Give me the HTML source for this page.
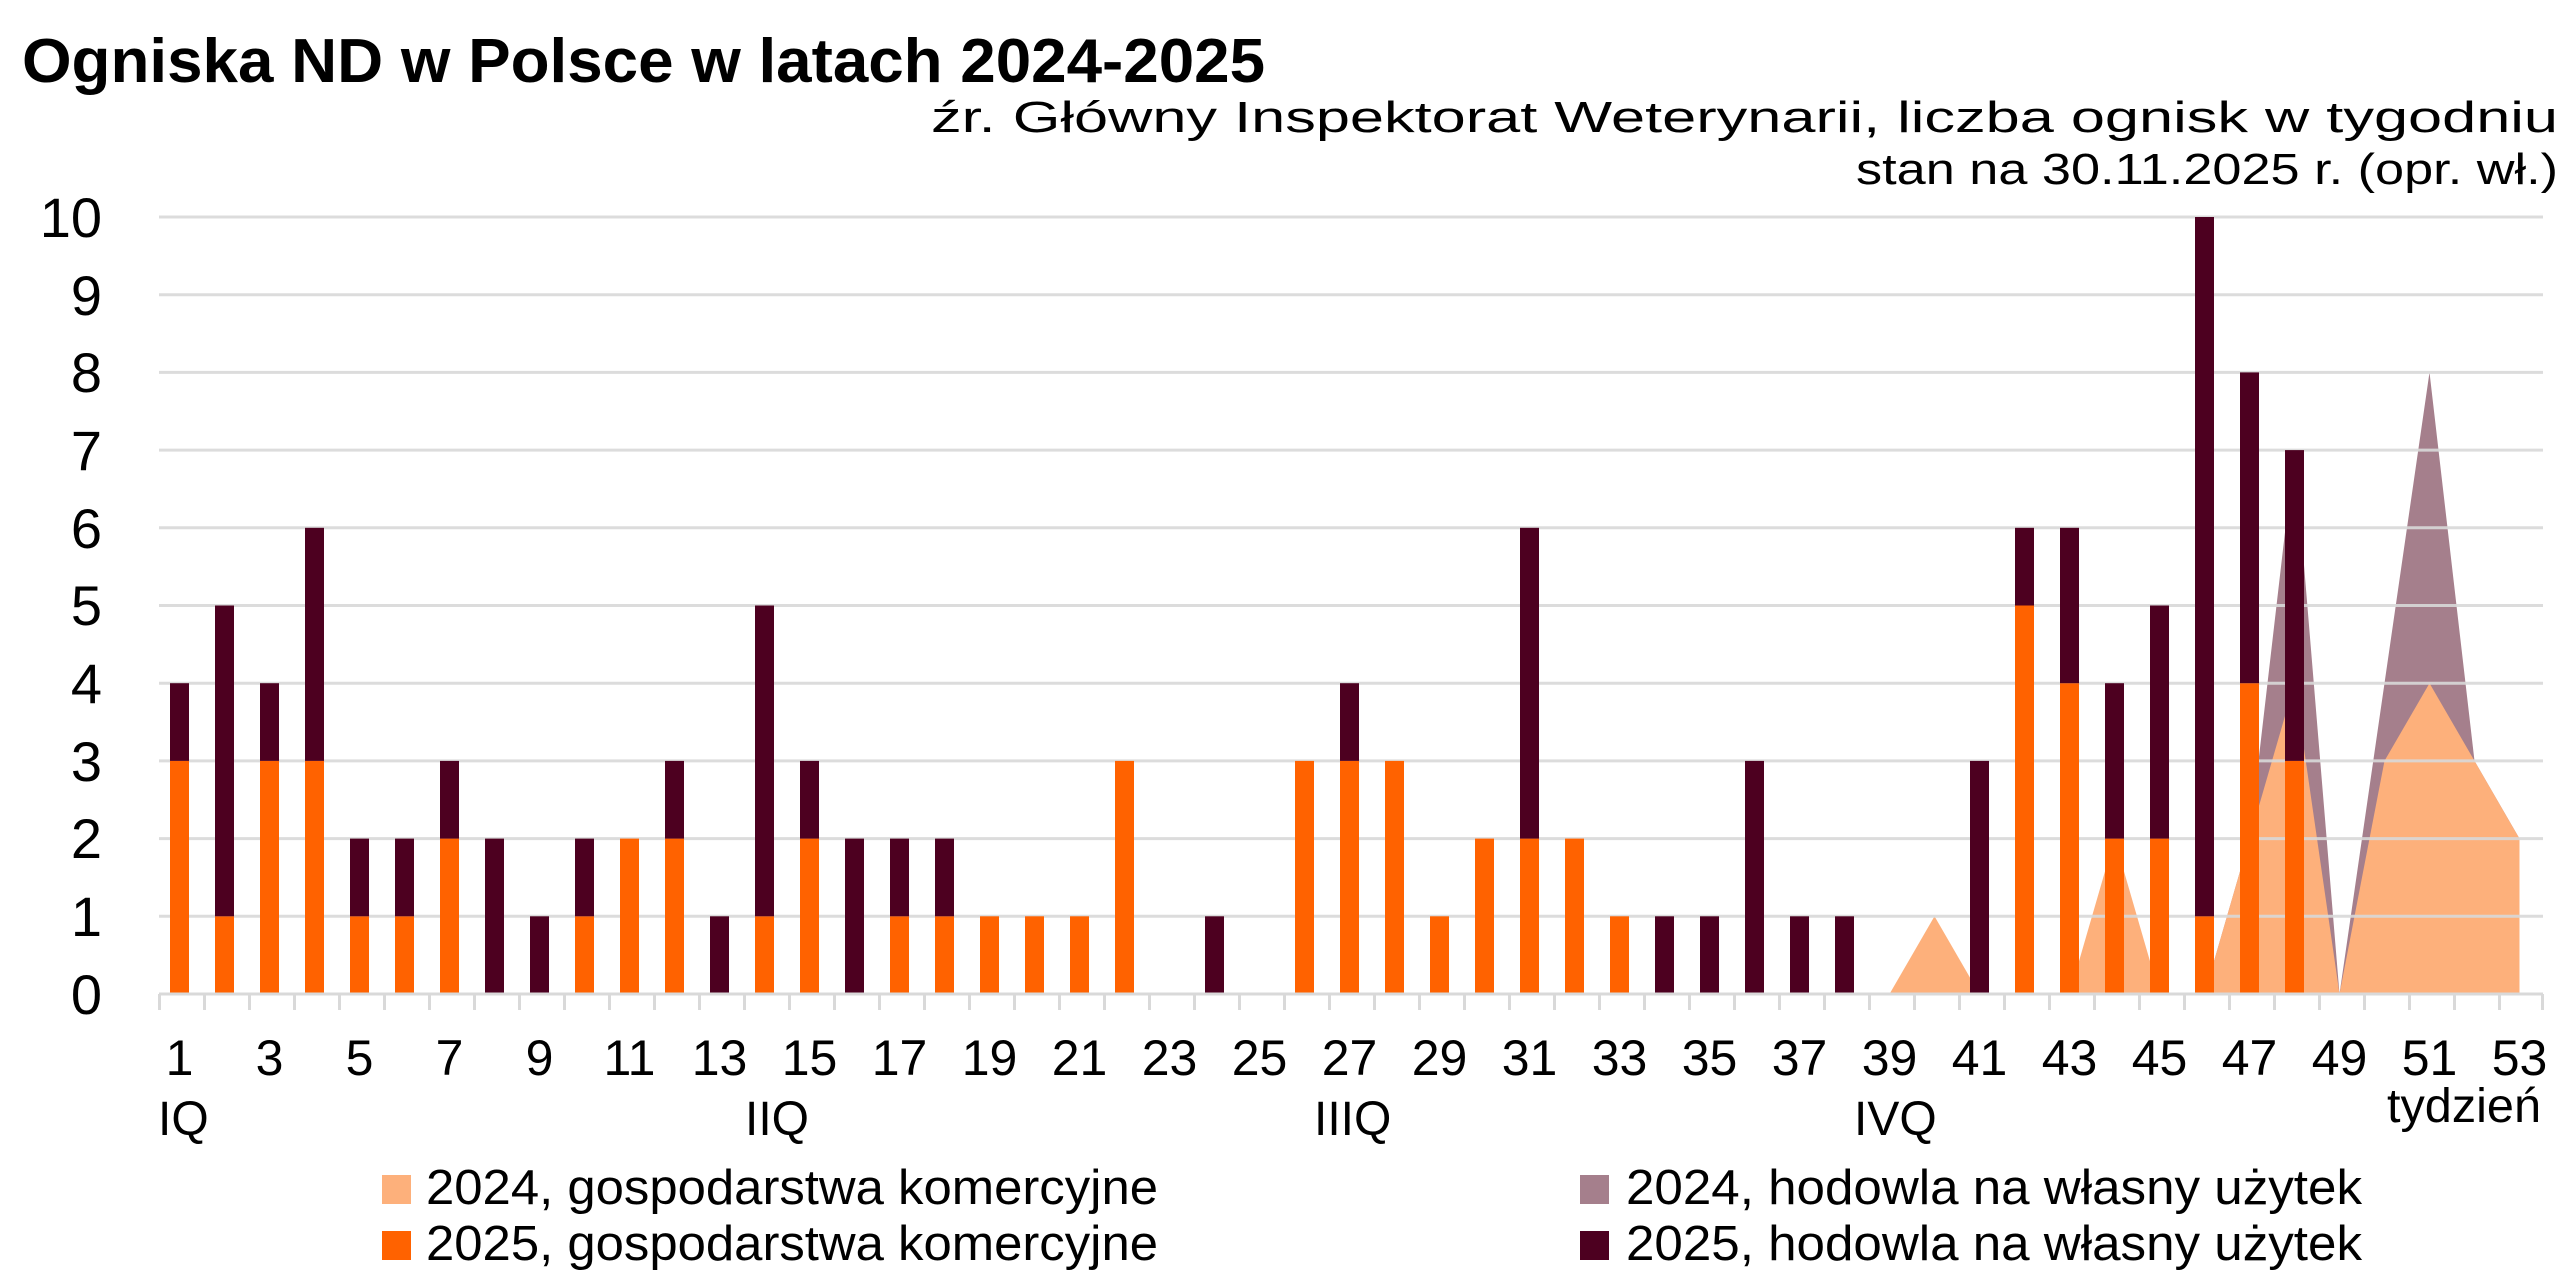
<!DOCTYPE html>
<html><head><meta charset="utf-8"><style>html,body{margin:0;padding:0;background:#fff}svg{display:block}</style></head>
<body>
<svg width="2576" height="1274" viewBox="0 0 2576 1274" xmlns="http://www.w3.org/2000/svg" font-family="Liberation Sans, DejaVu Sans, sans-serif">
<rect width="2576" height="1274" fill="#fff"/>
<text x="22" y="82" font-size="62" font-weight="bold" fill="#000" textLength="1243" lengthAdjust="spacingAndGlyphs">Ogniska ND w Polsce w latach 2024-2025</text>
<text x="2558" y="132" font-size="44" text-anchor="end" fill="#000" textLength="1627" lengthAdjust="spacingAndGlyphs">źr. Główny Inspektorat Weterynarii, liczba ognisk w tygodniu</text>
<text x="2558" y="184" font-size="44" text-anchor="end" fill="#000" textLength="702" lengthAdjust="spacingAndGlyphs">stan na 30.11.2025 r. (opr. wł.)</text>

<polygon fill="#a57f8c" points="2204.5,994 2249.5,838.6 2294.5,450.1 2339.5,994"/>
<polygon fill="#a57f8c" points="2339.5,994 2384.5,683.2 2429.5,372.4 2474.5,760.9 2519.5,838.6 2519.5,994"/>
<polygon fill="#fdb07b" points="1889.5,994 1934.5,916.3 1979.5,994"/>
<polygon fill="#fdb07b" points="2069.5,994 2114.5,838.6 2159.5,994"/>
<polygon fill="#fdb07b" points="2204.5,994 2249.5,838.6 2294.5,683.2 2339.5,994 2384.5,760.9 2429.5,683.2 2474.5,760.9 2519.5,838.6 2519.5,994"/>

<g stroke="#d9d9d9" stroke-width="3" opacity="0.9">
<line x1="159" x2="2543" y1="217" y2="217"/><line x1="159" x2="2543" y1="294.7" y2="294.7"/>
<line x1="159" x2="2543" y1="372.4" y2="372.4"/><line x1="159" x2="2543" y1="450.1" y2="450.1"/>
<line x1="159" x2="2543" y1="527.8" y2="527.8"/><line x1="159" x2="2543" y1="605.5" y2="605.5"/>
<line x1="159" x2="2543" y1="683.2" y2="683.2"/><line x1="159" x2="2543" y1="760.9" y2="760.9"/>
<line x1="159" x2="2543" y1="838.6" y2="838.6"/><line x1="159" x2="2543" y1="916.3" y2="916.3"/>
</g>

<g fill="#ff6200">
<rect x="170" y="760.9" width="19" height="233.1"/>
<rect x="215" y="916.3" width="19" height="77.7"/>
<rect x="260" y="760.9" width="19" height="233.1"/>
<rect x="305" y="760.9" width="19" height="233.1"/>
<rect x="350" y="916.3" width="19" height="77.7"/>
<rect x="395" y="916.3" width="19" height="77.7"/>
<rect x="440" y="838.6" width="19" height="155.4"/>
<rect x="575" y="916.3" width="19" height="77.7"/>
<rect x="620" y="838.6" width="19" height="155.4"/>
<rect x="665" y="838.6" width="19" height="155.4"/>
<rect x="755" y="916.3" width="19" height="77.7"/>
<rect x="800" y="838.6" width="19" height="155.4"/>
<rect x="890" y="916.3" width="19" height="77.7"/>
<rect x="935" y="916.3" width="19" height="77.7"/>
<rect x="980" y="916.3" width="19" height="77.7"/>
<rect x="1025" y="916.3" width="19" height="77.7"/>
<rect x="1070" y="916.3" width="19" height="77.7"/>
<rect x="1115" y="760.9" width="19" height="233.1"/>
<rect x="1295" y="760.9" width="19" height="233.1"/>
<rect x="1340" y="760.9" width="19" height="233.1"/>
<rect x="1385" y="760.9" width="19" height="233.1"/>
<rect x="1430" y="916.3" width="19" height="77.7"/>
<rect x="1475" y="838.6" width="19" height="155.4"/>
<rect x="1520" y="838.6" width="19" height="155.4"/>
<rect x="1565" y="838.6" width="19" height="155.4"/>
<rect x="1610" y="916.3" width="19" height="77.7"/>
<rect x="2015" y="605.5" width="19" height="388.5"/>
<rect x="2060" y="683.2" width="19" height="310.8"/>
<rect x="2105" y="838.6" width="19" height="155.4"/>
<rect x="2150" y="838.6" width="19" height="155.4"/>
<rect x="2195" y="916.3" width="19" height="77.7"/>
<rect x="2240" y="683.2" width="19" height="310.8"/>
<rect x="2285" y="760.9" width="19" height="233.1"/>
</g>
<g fill="#4d0020">
<rect x="170" y="683.2" width="19" height="77.7"/>
<rect x="215" y="605.5" width="19" height="310.8"/>
<rect x="260" y="683.2" width="19" height="77.7"/>
<rect x="305" y="527.8" width="19" height="233.1"/>
<rect x="350" y="838.6" width="19" height="77.7"/>
<rect x="395" y="838.6" width="19" height="77.7"/>
<rect x="440" y="760.9" width="19" height="77.7"/>
<rect x="485" y="838.6" width="19" height="155.4"/>
<rect x="530" y="916.3" width="19" height="77.7"/>
<rect x="575" y="838.6" width="19" height="77.7"/>
<rect x="665" y="760.9" width="19" height="77.7"/>
<rect x="710" y="916.3" width="19" height="77.7"/>
<rect x="755" y="605.5" width="19" height="310.8"/>
<rect x="800" y="760.9" width="19" height="77.7"/>
<rect x="845" y="838.6" width="19" height="155.4"/>
<rect x="890" y="838.6" width="19" height="77.7"/>
<rect x="935" y="838.6" width="19" height="77.7"/>
<rect x="1205" y="916.3" width="19" height="77.7"/>
<rect x="1340" y="683.2" width="19" height="77.7"/>
<rect x="1520" y="527.8" width="19" height="310.8"/>
<rect x="1655" y="916.3" width="19" height="77.7"/>
<rect x="1700" y="916.3" width="19" height="77.7"/>
<rect x="1745" y="760.9" width="19" height="233.1"/>
<rect x="1790" y="916.3" width="19" height="77.7"/>
<rect x="1835" y="916.3" width="19" height="77.7"/>
<rect x="1970" y="760.9" width="19" height="233.1"/>
<rect x="2015" y="527.8" width="19" height="77.7"/>
<rect x="2060" y="527.8" width="19" height="155.4"/>
<rect x="2105" y="683.2" width="19" height="155.4"/>
<rect x="2150" y="605.5" width="19" height="233.1"/>
<rect x="2195" y="217" width="19" height="699.3"/>
<rect x="2240" y="372.4" width="19" height="310.8"/>
<rect x="2285" y="450.1" width="19" height="310.8"/>
</g>

<line x1="159" x2="2543" y1="994" y2="994" stroke="#d9d9d9" stroke-width="3"/>
<path stroke="#d9d9d9" stroke-width="3" d="M159.5 994v16M204.5 994v16M249.5 994v16M294.5 994v16M339.5 994v16M384.5 994v16M429.5 994v16M474.5 994v16M519.5 994v16M564.5 994v16M609.5 994v16M654.5 994v16M699.5 994v16M744.5 994v16M789.5 994v16M834.5 994v16M879.5 994v16M924.5 994v16M969.5 994v16M1014.5 994v16M1059.5 994v16M1104.5 994v16M1149.5 994v16M1194.5 994v16M1239.5 994v16M1284.5 994v16M1329.5 994v16M1374.5 994v16M1419.5 994v16M1464.5 994v16M1509.5 994v16M1554.5 994v16M1599.5 994v16M1644.5 994v16M1689.5 994v16M1734.5 994v16M1779.5 994v16M1824.5 994v16M1869.5 994v16M1914.5 994v16M1959.5 994v16M2004.5 994v16M2049.5 994v16M2094.5 994v16M2139.5 994v16M2184.5 994v16M2229.5 994v16M2274.5 994v16M2319.5 994v16M2364.5 994v16M2409.5 994v16M2454.5 994v16M2499.5 994v16M2542.5 994v16"/>

<g font-size="56" fill="#000" text-anchor="end">
<text x="102" y="237">10</text><text x="102" y="315">9</text><text x="102" y="392">8</text>
<text x="102" y="470">7</text><text x="102" y="548">6</text><text x="102" y="625">5</text>
<text x="102" y="703">4</text><text x="102" y="781">3</text><text x="102" y="858">2</text>
<text x="102" y="936">1</text><text x="102" y="1014">0</text>
</g>
<g font-size="50" fill="#000" text-anchor="middle">
<text x="179.5" y="1075">1</text><text x="269.5" y="1075">3</text><text x="359.5" y="1075">5</text>
<text x="449.5" y="1075">7</text><text x="539.5" y="1075">9</text><text x="629.5" y="1075">11</text>
<text x="719.5" y="1075">13</text><text x="809.5" y="1075">15</text><text x="899.5" y="1075">17</text>
<text x="989.5" y="1075">19</text><text x="1079.5" y="1075">21</text><text x="1169.5" y="1075">23</text>
<text x="1259.5" y="1075">25</text><text x="1349.5" y="1075">27</text><text x="1439.5" y="1075">29</text>
<text x="1529.5" y="1075">31</text><text x="1619.5" y="1075">33</text><text x="1709.5" y="1075">35</text>
<text x="1799.5" y="1075">37</text><text x="1889.5" y="1075">39</text><text x="1979.5" y="1075">41</text>
<text x="2069.5" y="1075">43</text><text x="2159.5" y="1075">45</text><text x="2249.5" y="1075">47</text>
<text x="2339.5" y="1075">49</text><text x="2429.5" y="1075">51</text><text x="2519.5" y="1075">53</text>
</g>
<g font-size="48" fill="#000">
<text x="158" y="1135">IQ</text>
<text x="745" y="1135">IIQ</text>
<text x="1314" y="1135">IIIQ</text>
<text x="1854" y="1135">IVQ</text>
<text x="2387" y="1122" textLength="154" lengthAdjust="spacingAndGlyphs">tydzień</text>
</g>

<rect x="382" y="1175" width="29" height="29" fill="#fdb07b"/>
<rect x="382" y="1231" width="29" height="29" fill="#ff6200"/>
<rect x="1580" y="1175" width="29" height="29" fill="#a57f8c"/>
<rect x="1580" y="1231" width="29" height="29" fill="#4d0020"/>
<g font-size="49" fill="#000">
<text x="426" y="1204" textLength="732" lengthAdjust="spacingAndGlyphs">2024, gospodarstwa komercyjne</text>
<text x="426" y="1260" textLength="732" lengthAdjust="spacingAndGlyphs">2025, gospodarstwa komercyjne</text>
<text x="1626" y="1204" textLength="736" lengthAdjust="spacingAndGlyphs">2024, hodowla na własny użytek</text>
<text x="1626" y="1260" textLength="736" lengthAdjust="spacingAndGlyphs">2025, hodowla na własny użytek</text>
</g>
</svg>
</body></html>
